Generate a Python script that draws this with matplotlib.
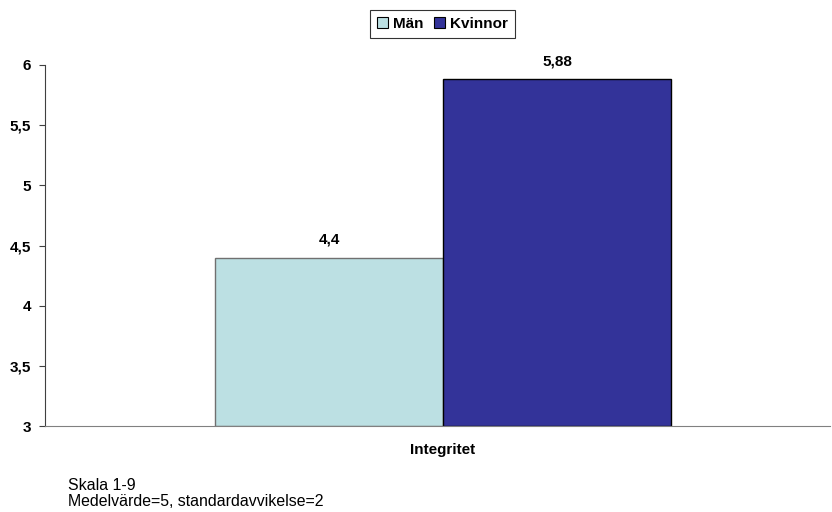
import matplotlib
matplotlib.use("Agg")
import matplotlib.pyplot as plt
from matplotlib.patches import Patch

plt.rcParams['font.family'] = ['Liberation Sans', 'DejaVu Sans']

category = "Integritet"
series = ["Män", "Kvinnor"]
values = [4.4, 5.88]
value_labels = ["4,4", "5,88"]
colors = ["#BCE0E3", "#333399"]
edges = ["#707070", "#000000"]
yticks = [3, 3.5, 4, 4.5, 5, 5.5, 6]
ytick_labels = ["3", "3,5", "4", "4,5", "5", "5,5", "6"]
notes = ["Skala 1-9", "Medelvärde=5, standardavvikelse=2"]

W, H = 832, 512
fs = 11
fig = plt.figure(figsize=(W / 100, H / 100), dpi=100)
ax = fig.add_axes([45 / W, (H - 426) / H, (830 - 45) / W, (426 - 65) / H])

bw = 228 / 785
offsets = [-bw / 2, bw / 2]
for v, lab, c, e, o in zip(values, value_labels, colors, edges, offsets):
    ax.bar(o, v - 3, bottom=3, width=bw, color=c, edgecolor=e, linewidth=1)
    ax.text(o, v + 0.09, lab, ha="center", va="bottom", fontsize=fs, fontweight="bold")

ax.set_xlim(-398 / 785, 387 / 785)
ax.set_ylim(3, 6)
ax.set_yticks(yticks)
ax.set_yticklabels(ytick_labels, fontsize=fs, fontweight="bold")
ax.set_xticks([0])
ax.set_xticklabels([category], fontsize=fs, fontweight="bold")
ax.tick_params(axis="x", length=0, pad=12)
ax.tick_params(axis="y", length=4, width=0.8, color="#404040", pad=6)
for s in ["top", "right"]:
    ax.spines[s].set_visible(False)
ax.spines["left"].set_color("#404040")
ax.spines["bottom"].set_color("#808080")
ax.spines["left"].set_linewidth(0.8)
ax.spines["bottom"].set_linewidth(0.8)

handles = [Patch(facecolor=c, edgecolor="#000000", linewidth=0.8) for c in colors]
leg = fig.legend(handles, series, loc="center", bbox_to_anchor=(442.5 / W, 1 - 24 / H),
                 ncol=2, frameon=True, fancybox=False, handlelength=0.7, handleheight=0.7,
                 handletextpad=0.35, columnspacing=0.7, borderpad=0.45,
                 prop={"size": fs, "weight": "bold"})
leg.get_frame().set_edgecolor("#000000")
leg.get_frame().set_linewidth(0.8)

fig.text(68 / W, 1 - 486 / H, notes[0], fontsize=11.4, va="center")
fig.text(68 / W, 1 - 502 / H, notes[1], fontsize=11.4, va="center")

fig.savefig("out.png", dpi=100, facecolor="white")
